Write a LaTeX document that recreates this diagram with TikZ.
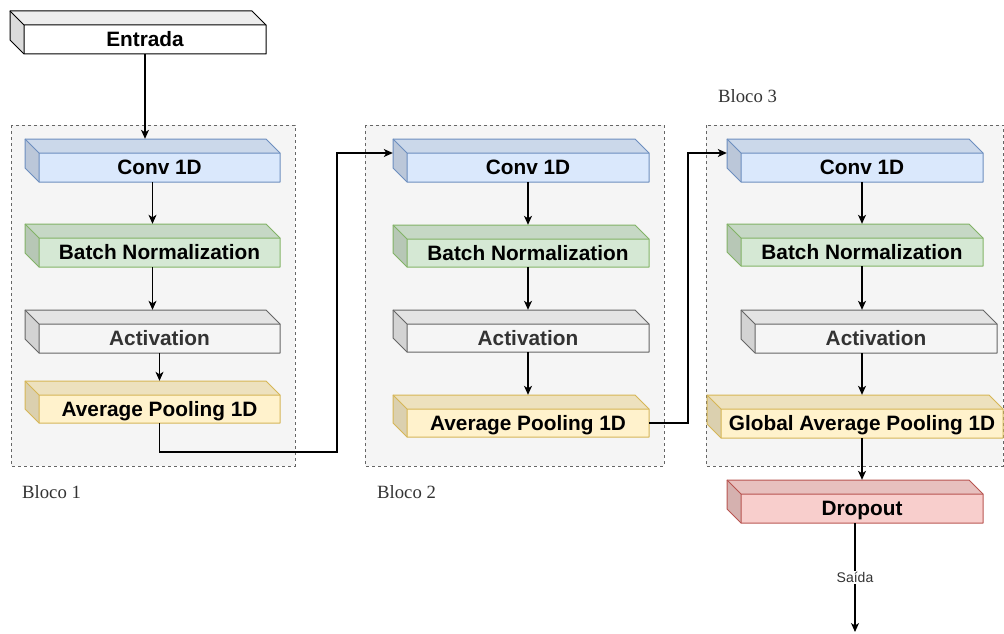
\documentclass[tikz,border=0pt]{standalone}
\usepackage{fontspec}
\setmainfont{Liberation Sans}
\newfontfamily\blkserif{Liberation Serif}
\usetikzlibrary{arrows.meta,calc,fit}
\definecolor{bluef}{HTML}{DAE8FC}\definecolor{blues}{HTML}{6C8EBF}
\definecolor{greenf}{HTML}{D5E8D4}\definecolor{greens}{HTML}{82B366}
\definecolor{grayf}{HTML}{F5F5F5}\definecolor{grays}{HTML}{666666}
\definecolor{yelf}{HTML}{FFF2CC}\definecolor{yels}{HTML}{D6B656}
\definecolor{redf}{HTML}{F8CECC}\definecolor{reds}{HTML}{B85450}
\definecolor{txtgray}{HTML}{333333}
\tikzset{
  boxtext/.style={font=\fontsize{20.8}{24}\selectfont\bfseries, inner sep=0pt, text height=18.8pt, text depth=4.4pt},
  frame/.style={fill=grayf, draw=grays, line width=0.9pt, dash pattern=on 3pt off 3pt},
  conn/.style={line width=1.1pt, -{Stealth[length=9pt,width=8pt,inset=2.5pt]}},
  blocklabel/.style={font=\blkserif\fontsize{18.7}{22}\selectfont, text=txtgray, anchor=west, inner sep=0pt},
  edgelabel/.style={font=\fontsize{14}{16}\selectfont, text=txtgray, fill=white, inner sep=1.5pt}
}
% #1 name, #2 x0, #3 y0, #4 x1, #5 y1, #6 fill, #7 stroke, #8 text colour, #9 text
\newcommand\cubebox[9]{%
  \fill[#6] (#2+14,#3+14) rectangle (#4,#5);
  \fill[#6!93!black] (#2,#3) -- (#4-14,#3) -- (#4,#3+14) -- (#2+14,#3+14) -- cycle;
  \fill[#6!86!black] (#2,#3) -- (#2+14,#3+14) -- (#2+14,#5) -- (#2,#5-14) -- cycle;
  \draw[#7, line width=1pt, line join=round] (#2,#3) -- (#4-14,#3) -- (#4,#3+14) -- (#4,#5) -- (#2+14,#5) -- (#2,#5-14) -- cycle;
  \draw[#7, line width=1pt, line join=round] (#2,#3) -- (#2+14,#3+14) -- (#4,#3+14) (#2+14,#3+14) -- (#2+14,#5);
  \node[fit={(#2,#3) (#4,#5)}, inner sep=0pt] (#1) {};
  \node[fit={(#2+14,#3+14) (#4,#5)}, inner sep=0pt] (#1f) {};
  \node[boxtext, text=#8] (#1t) at (#1f.center) {#9};
}
\begin{document}
\begin{tikzpicture}[x=1pt,y=-1pt]
\useasboundingbox (0,0) rectangle (1004,634);
% containers
\draw[frame] (11,125) rectangle (295,466);
\draw[frame] (365,125) rectangle (664,466);
\draw[frame] (706,125) rectangle (1003.4,466);
\node[blocklabel] (l1) at (22,492) {Bloco 1};
\node[blocklabel] (l2) at (377,492) {Bloco 2};
\node[blocklabel] (l3) at (718,96) {Bloco 3};
% boxes
\cubebox{ent}{10}{11}{266}{54}{white}{black}{black}{Entrada}
\cubebox{c1}{25}{139}{280}{182}{bluef}{blues}{black}{Conv 1D}
\cubebox{b1}{25}{224}{280}{267}{greenf}{greens}{black}{Batch Normalization}
\cubebox{a1}{25}{310}{280}{353}{grayf}{grays}{txtgray}{Activation}
\cubebox{p1}{25}{381}{280}{423}{yelf}{yels}{black}{Average Pooling 1D}
\cubebox{c2}{393}{139}{649}{182}{bluef}{blues}{black}{Conv 1D}
\cubebox{b2}{393}{225}{649}{267}{greenf}{greens}{black}{Batch Normalization}
\cubebox{a2}{393}{310}{649}{352}{grayf}{grays}{txtgray}{Activation}
\cubebox{p2}{393}{395}{649}{437}{yelf}{yels}{black}{Average Pooling 1D}
\cubebox{c3}{727}{139}{983}{182}{bluef}{blues}{black}{Conv 1D}
\cubebox{b3}{727}{224}{983}{266}{greenf}{greens}{black}{Batch Normalization}
\cubebox{a3}{741}{310}{997}{353}{grayf}{grays}{txtgray}{Activation}
\cubebox{g3}{707}{395}{1003}{438}{yelf}{yels}{black}{Global Average Pooling 1D}
\cubebox{d3}{727}{480}{983}{523}{redf}{reds}{black}{Dropout}
% junction coordinates
\coordinate (j1) at (337,452);
\coordinate (j2) at (688,300);
\coordinate (out) at (855,632);
% connectors
\draw[conn] (entf.south) -- (entf.south |- c1.north);
\draw[conn] (c1.south) -- (b1.north);
\draw[conn] (b1.south) -- (a1.north);
\draw[conn] (a1f.south) -- (a1f.south |- p1.north);
\draw[conn] (p1f.south) |- (j1) |- ([yshift=7.5pt]c2.west);
\draw[conn] (c2f.south) -- (c2f.south |- b2.north);
\draw[conn] (b2f.south) -- (b2f.south |- a2.north);
\draw[conn] (a2f.south) -- (a2f.south |- p2.north);
\draw[conn] (p2f.east) -| (j2) |- ([yshift=7.5pt]c3.west);
\draw[conn] (c3f.south) -- (c3f.south |- b3.north);
\draw[conn] (b3f.south) -- (b3f.south |- a3.north);
\draw[conn] (a3.south -| b3f.south) -- (b3f.south |- g3.north);
\draw[conn] (g3f.south) -- (g3f.south |- d3.north);
\draw[conn] (d3.south) -- node[edgelabel] (saida) {Saída} (out);
\end{tikzpicture}
\end{document}
